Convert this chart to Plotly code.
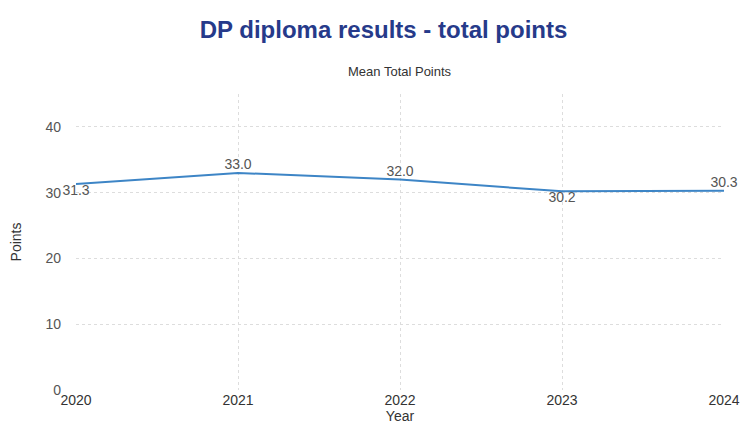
import plotly.graph_objects as go

years = [2020, 2021, 2022, 2023, 2024]
values = [31.3, 33.0, 32.0, 30.2, 30.3]
positions = ["bottom center", "top center", "top center", "bottom center", "top center"]

fig = go.Figure(go.Scatter(
    x=years, y=values, mode="lines+text",
    text=[f"{v:.1f}" for v in values], textposition=positions,
    textfont=dict(size=14, color="#555555"),
    line=dict(color="#3d85c6", width=2), cliponaxis=False))

fig.update_layout(
    width=751, height=428, plot_bgcolor="white", paper_bgcolor="white",
    font=dict(family="Liberation Sans, Arial", color="#333333"),
    margin=dict(l=68, r=35, t=86, b=46, autoexpand=False),
    title=dict(text="<b>DP diploma results - total points</b>", x=0.5, xanchor="center",
               y=22/428, yref="container", yanchor="middle", font=dict(size=24, color="#263a8a")),
    annotations=[dict(text="Mean Total Points", x=0.5, xref="paper", y=1.075, yref="paper",
                      yanchor="middle", showarrow=False, font=dict(size=13, color="#333333"))],
    showlegend=False)
fig.layout.title.y = 1 - 22/428
fig.update_xaxes(title=dict(text="Year", font=dict(size=14), standoff=2), tickvals=years,
                 range=[2020, 2024], showgrid=True, gridcolor="#dddddd", griddash="dot",
                 zeroline=False, tickfont=dict(size=14, color="#333333"), automargin=False)
fig.update_yaxes(title=dict(text="Points", font=dict(size=14), standoff=22), range=[0, 45],
                 tickvals=[0, 10, 20, 30, 40],
                 showgrid=True, gridcolor="#dddddd", griddash="dot", zeroline=False,
                 tickfont=dict(size=14, color="#555555"), ticklabelstandoff=14, automargin=False)
fig.write_html("out.html")
